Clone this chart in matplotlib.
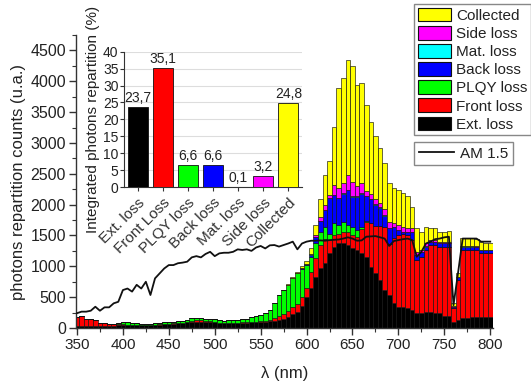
import numpy as np
import matplotlib
matplotlib.use("Agg")
import matplotlib.pyplot as plt
from matplotlib.patches import Patch
from matplotlib.lines import Line2D

plt.rcParams['font.family'] = ['Liberation Sans', 'DejaVu Sans']

# ---------------- data ----------------
wavelength = list(range(350, 805, 5))  # 91 bins, 5 nm wide

ext_loss = [40, 40, 40, 40, 40, 35, 35, 35, 40, 45,
            50, 50, 50, 50, 45, 45, 45, 50, 55, 60,
            65, 70, 75, 80, 90, 100, 100, 100, 100, 100,
            95, 80, 75, 75, 80, 80, 85, 85, 90, 95,
            100, 105, 110, 120, 135, 150, 180, 230, 265, 350,
            500, 650, 830, 970, 1050, 1210, 1320, 1370, 1370, 1345,
            1290, 1265, 1210, 1155, 995, 885, 780, 615, 535, 400,
            345, 345, 320, 290, 240, 240, 265, 265, 240, 240,
            200, 190, 100, 130, 160, 170, 175, 180, 185, 175, 180]
front_loss = [140, 150, 110, 100, 90, 45, 40, 25, 20, 15,
              10, 5, 5, 5, 5, 5, 5, 5, 5, 5,
              5, 5, 5, 5, 5, 20, 30, 30, 15, 10,
              5, 5, 5, 5, 5, 5, 5, 5, 5, 5,
              10, 15, 25, 40, 60, 80, 100, 110, 120, 150,
              150, 250, 300, 380, 400, 215, 185, 150, 190, 215,
              215, 215, 390, 565, 705, 775, 880, 1015, 825, 1060,
              1165, 1185, 1185, 1135, 860, 915, 1000, 1080, 1105, 1080,
              1120, 1130, 230, 650, 1105, 1095, 1090, 1080, 1025, 1035, 1030]
plqy_loss = [0, 0, 0, 0, 0, 0, 0, 5, 10, 15,
             30, 35, 30, 25, 20, 20, 15, 20, 25, 25,
             25, 25, 30, 35, 40, 40, 35, 35, 35, 40,
             40, 45, 40, 45, 45, 45, 50, 55, 80, 100,
             100, 130, 155, 240, 340, 385, 420, 465, 500, 460,
             370, 250, 250, 200, 190, 105, 190, 150, 160, 110,
             135, 110, 40, 20, 5, 0, 0, 0, 0, 0,
             0, 0, 0, 0, 0, 0, 0, 0, 0, 0,
             0, 0, 0, 0, 0, 0, 0, 0, 0, 0, 0]
back_loss = [0] * 46 + [0, 5, 5, 15,
             20, 40, 100, 180, 270, 570, 460, 430, 460, 565,
             490, 540, 540, 400, 385, 340, 290, 190, 260, 170,
             80, 30, 55, 135, 80, 80, 55, 55, 55, 50,
             50, 50, 15, 40, 55, 55, 55, 55, 50, 50, 50]
mat_loss = [0] * 51 + [2, 3, 4, 5, 5, 5, 5, 5, 5,
            5, 5, 5, 5, 5, 5, 5, 4, 4, 4,
            3, 3, 3, 3, 2, 2, 2, 2, 2, 2,
            2, 2, 1, 1, 2, 2, 2, 2, 2, 2, 2]
side_loss = [0] * 50 + [5, 10, 30, 60, 80, 50, 160, 160, 165, 245,
             240, 170, 165, 70, 70, 90, 70, 100, 100, 70,
             80, 80, 55, 55, 55, 30, 50, 25, 20, 20,
             15, 15, 5, 10, 10, 10, 10, 10, 10, 10, 10]
collected = [0] * 46 + [10, 10, 15, 30,
             35, 90, 150, 300, 490, 545, 945, 1620, 1700, 1860,
             1865, 1635, 1620, 1400, 1170, 1020, 890, 750, 630, 560,
             560, 540, 515, 350, 380, 295, 270, 190, 195, 170,
             175, 185, 50, 55, 120, 120, 120, 110, 130, 110, 110]

am15 = [240, 265, 265, 280, 345, 280, 335, 335, 400, 425,
        615, 640, 590, 700, 640, 750, 535, 805, 885, 965,
        1020, 1020, 1050, 1060, 1075, 1145, 1165, 1145, 1200, 1235,
        1165, 1210, 1220, 1220, 1235, 1275, 1265, 1275, 1250, 1305,
        1330, 1290, 1340, 1345, 1320, 1345, 1370, 1400, 1275, 1370,
        1400, 1415, 1415, 1420, 1415, 1425, 1430, 1435, 1450, 1470,
        1450, 1415, 1420, 1480, 1485, 1490, 1470, 1450, 1330, 1410,
        1425, 1440, 1450, 1425, 1155, 1235, 1370, 1400, 1440, 1450,
        1470, 1480, 370, 900, 1450, 1450, 1450, 1450, 1400, 1400, 1400]

inset_labels = ['Ext. loss', 'Front Loss', 'PLQY loss', 'Back loss',
                'Mat. loss', 'Side loss', 'Collected']
inset_values = [23.7, 35.1, 6.6, 6.6, 0.1, 3.2, 24.8]

series_names = ['Ext. loss', 'Front loss', 'PLQY loss', 'Back loss',
                'Mat. loss', 'Side loss', 'Collected']
series_colors = ['#000000', '#ff0000', '#00ff00', '#0000ff',
                 '#00ffff', '#ff00ff', '#ffff00']

# ---------------- figure ----------------
fig = plt.figure(figsize=(5.31, 3.84), dpi=100)
W, H = 531, 384

def frac(x0, y_top, x1, y_bot):
    return [x0 / W, 1 - y_bot / H, (x1 - x0) / W, (y_bot - y_top) / H]

ax = fig.add_axes(frac(75.5, 35, 493, 328))
txt = '#222222'

series = [ext_loss, front_loss, plqy_loss, back_loss, mat_loss, side_loss, collected]
bottom = np.zeros(len(wavelength))
for vals, col in zip(series, series_colors):
    v = np.array(vals, dtype=float)
    ax.bar(wavelength, v, width=5, bottom=bottom, color=col,
           edgecolor='#111111', linewidth=0.45, zorder=2)
    bottom += v

ax.plot(wavelength, am15, color='#111111', lw=1.3, zorder=4)

ax.set_xlim(348.4, 803)
ax.set_ylim(0, 4750)
ax.set_xticks(range(350, 801, 50))
ax.set_xticks(range(375, 801, 50), minor=True)
ax.set_yticks(range(0, 4501, 500))
ax.set_yticks(range(250, 4751, 500), minor=True)
for s in ['top', 'right']:
    ax.spines[s].set_visible(False)
for s in ['left', 'bottom']:
    ax.spines[s].set_color('#333333')
    ax.spines[s].set_linewidth(1.0)
ax.tick_params(axis='both', which='major', direction='out', length=5,
               width=1, colors='#333333', labelcolor=txt, pad=2)
ax.tick_params(axis='y', which='major', labelsize=11.5)
ax.tick_params(axis='x', which='major', labelsize=11)
ax.tick_params(axis='both', which='minor', direction='out', length=3,
               width=0.8, colors='#333333')
ax.set_xlabel('λ (nm)', fontsize=12, color=txt, labelpad=10)
ax.set_ylabel('photons repartition counts (u.a.)', fontsize=12, color=txt, labelpad=3)

# ---------------- inset ----------------
ins = fig.add_axes(frac(124, 51.7, 302, 187))
xs = np.arange(len(inset_values))
ins.bar(xs, inset_values, width=0.8, color=series_colors,
        edgecolor='#111111', linewidth=0.6, zorder=3)
for x, v in zip(xs, inset_values):
    ins.text(x, v + 0.6, f'{v:.1f}'.replace('.', ','), ha='center', va='bottom',
             fontsize=10, color=txt)
ins.set_xlim(-0.54, 6.54)
ins.set_ylim(0, 40)
ins.set_yticks(range(0, 41, 5))
ins.set_xticks(xs)
ins.set_xticklabels(inset_labels, rotation=45, ha='right', rotation_mode='anchor',
                    fontsize=11, color=txt)
ins.yaxis.grid(True, color='#dddddd', lw=0.8, zorder=0)
ins.set_axisbelow(True)
for s in ['top', 'right']:
    ins.spines[s].set_visible(False)
for s in ['left', 'bottom']:
    ins.spines[s].set_color('#333333')
ins.tick_params(axis='y', direction='out', length=3, labelsize=10, colors='#333333',
                labelcolor=txt, pad=1)
ins.tick_params(axis='x', direction='out', length=3, colors='#333333', pad=3)
ins.set_ylabel('Integrated photons repartition (%)', fontsize=11, color=txt, labelpad=2)
ins.patch.set_alpha(0)

# ---------------- legends ----------------
handles = [Patch(facecolor=c, edgecolor='#111111', linewidth=0.8)
           for c in series_colors][::-1]
labels = series_names[::-1]
leg = fig.legend(handles, labels, loc='upper left',
                 bbox_to_anchor=(414 / W, 1 - 4 / H), fontsize=11,
                 handlelength=2.15, handleheight=1.0, labelspacing=0.2,
                 handletextpad=0.35, borderpad=0.25, borderaxespad=0,
                 fancybox=False, framealpha=1, edgecolor='#888888')
leg.get_frame().set_linewidth(1.0)
for t in leg.get_texts():
    t.set_color(txt)

leg2 = fig.legend([Line2D([0], [0], color='#111111', lw=1.3)], ['AM 1.5'],
                  loc='upper left', bbox_to_anchor=(414 / W, 1 - 142 / H),
                  fontsize=11, handlelength=2.3, handletextpad=0.4,
                  borderpad=0.3, borderaxespad=0, fancybox=False,
                  framealpha=1, edgecolor='#888888')
leg2.get_frame().set_linewidth(1.0)
for t in leg2.get_texts():
    t.set_color(txt)

fig.savefig('out.png', dpi=100)
